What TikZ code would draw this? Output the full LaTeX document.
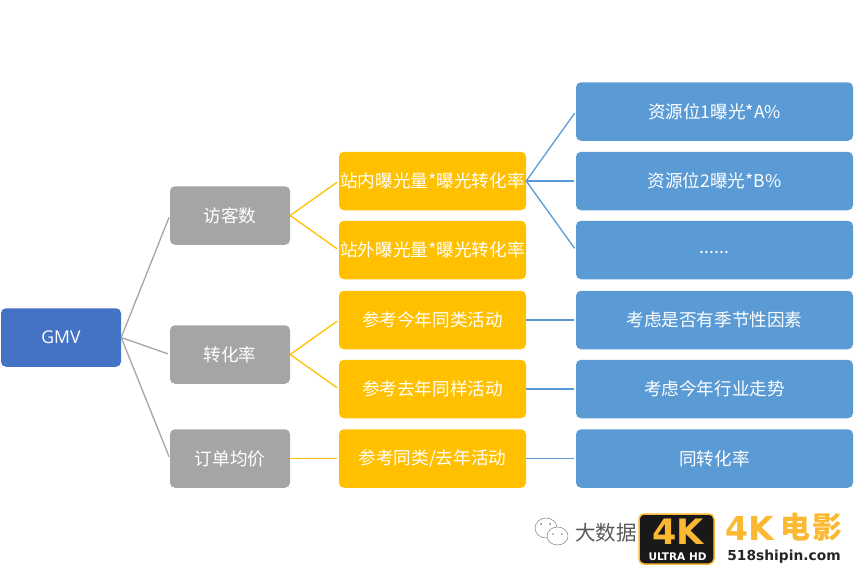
\documentclass[tikz,border=0pt]{standalone}
\usepackage{fontspec}
\setmainfont{Noto Sans CJK SC}
\newfontfamily\latinfont{Open Sans}
\newfontfamily\logofont{DejaVu Sans}
\definecolor{rootblue}{HTML}{4472C4}
\definecolor{boxgrey}{HTML}{A5A5A5}
\definecolor{boxyellow}{HTML}{FFC000}
\definecolor{boxblue}{HTML}{5B9BD5}
\definecolor{logogold}{HTML}{FBB933}
\tikzset{
	box/.style={rounded corners=5pt,inner sep=0pt,text=white,minimum height=58.5pt,font=\fontsize{17.6}{20}\selectfont},
	rootbox/.style={box,fill=rootblue,minimum width=120pt},
	greybox/.style={box,fill=boxgrey,minimum width=120pt},
	yellowbox/.style={box,fill=boxyellow,minimum width=187pt},
	bluebox/.style={box,fill=boxblue,minimum width=277pt},
	greyline/.style={boxgrey,line width=1.3pt,shorten >=2pt},
	yellowline/.style={boxyellow,line width=1.3pt,shorten >=2pt},
	blueline/.style={boxblue,line width=1.3pt,shorten >=2pt},
}
\begin{document}
\begin{tikzpicture}[x=1pt,y=-1pt]
	\useasboundingbox (0,0) rectangle (854,570);
	\node[rootbox] (gmv) at (61,337.5) {\latinfont GMV};
	\node[greybox] (visitors) at (230,215.5) {访客数};
	\node[greybox] (rate) at (230,354.5) {转化率};
	\node[greybox] (price) at (230,458.5) {订单均价};
	\node[yellowbox] (inner) at (432.5,181) {站内曝光量*曝光转化率};
	\node[yellowbox] (outer) at (432.5,250) {站外曝光量*曝光转化率};
	\node[yellowbox] (same) at (432.5,320) {参考今年同类活动};
	\node[yellowbox] (last) at (432.5,389) {参考去年同样活动};
	\node[yellowbox] (both) at (432.5,458.5) {参考同类/去年活动};
	\node[bluebox] (slotone) at (714.5,111.5) {资源位1曝光*A\%};
	\node[bluebox] (slottwo) at (714.5,181) {资源位2曝光*B\%};
	\node[bluebox] (dots) at (714.5,250) {\raisebox{-8pt}{......}};
	\node[bluebox] (season) at (714.5,320) {考虑是否有季节性因素};
	\node[bluebox] (trend) at (714.5,389) {考虑今年行业走势};
	\node[bluebox] (sameas) at (714.5,458.5) {同转化率};
	% connectors
	\draw[greyline] (gmv.east) -- (visitors.west);
	\draw[greyline] (gmv.east) -- (rate.west);
	\draw[greyline] (gmv.east) -- (price.west);
	\draw[yellowline] (visitors.east) -- (inner.west);
	\draw[yellowline] (visitors.east) -- (outer.west);
	\draw[yellowline] (rate.east) -- (same.west);
	\draw[yellowline] (rate.east) -- (last.west);
	\draw[yellowline] (price.east) -- (both.west);
	\draw[blueline] (inner.east) -- (slotone.west);
	\draw[blueline] (inner.east) -- (slottwo.west);
	\draw[blueline] (inner.east) -- (dots.west);
	\draw[blueline] (same.east) -- (season.west);
	\draw[blueline] (last.east) -- (trend.west);
	\draw[blueline] (both.east) -- (sameas.west);
	% watermark
	\draw[gray,line width=.5pt,fill=white] (546,528) ellipse (11 and 10);
	\draw[gray,line width=.5pt,fill=white] (557.5,536) ellipse (10.5 and 9);
	\fill[gray] (541,524) circle (1) (550,524) circle (1) (553,534) circle (.9) (562,534) circle (.9);
	\node[text=black!65,font=\fontsize{20.5}{24}\selectfont] (brand) at (606,532.5) {大数据};
	\node[fill=black!90,draw=logogold,line width=1.5pt,rounded corners=5pt,minimum width=75pt,minimum height=50pt,inner sep=0pt] (logo) at (676.5,539) {};
	\node[text=logogold,font=\logofont\bfseries\fontsize{35}{35}\selectfont,inner sep=0pt] (logofk) at (678,531.5) {4K};
	\node[text=white,font=\logofont\bfseries\fontsize{10.5}{11}\selectfont,inner sep=0pt] (logohd) at (677.5,557) {ULTRA HD};
	\node[text=logogold,font=\logofont\bfseries\fontsize{33}{36}\selectfont,inner sep=0pt] (filmfk) at (750,528) {4K};
	\node[text=logogold,font=\bfseries\fontsize{30}{34}\selectfont,inner sep=0pt] (film) at (811.5,527) {电\hspace{2pt}影};
	\node[text=black!85,font=\logofont\bfseries\fontsize{13.8}{15}\selectfont,inner sep=0pt] (site) at (784,557) {518shipin.com};
\end{tikzpicture}
\end{document}
